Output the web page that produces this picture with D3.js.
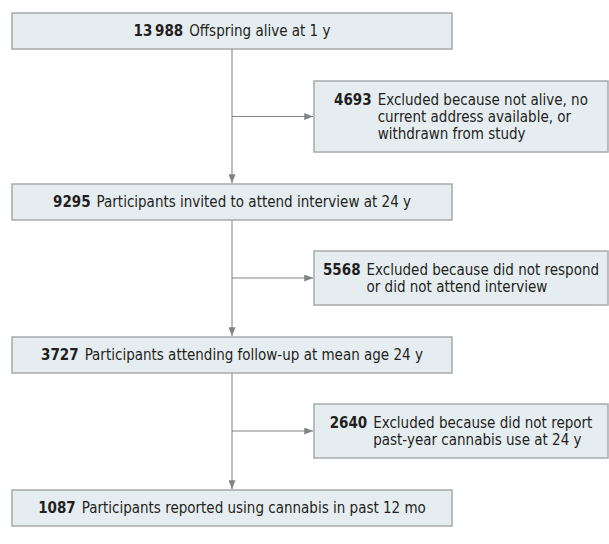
<!DOCTYPE html>
<html>
<head>
<meta charset="utf-8">
<script src="https://cdn.jsdelivr.net/npm/d3@7"></script>
<style>
  html, body { margin: 0; padding: 0; background: #fff; }
  svg { display: block; }
  text { font-family: "Liberation Sans Narrow", "DejaVu Sans Condensed", sans-serif; font-size: 15px; fill: #231f20; }
</style>
</head>
<body>
<svg id="chart" width="609" height="544"></svg>
<script>
// ---- data ----
const stageCounts = [13988, 9295, 3727, 1087];
const stageLabels = [
  "Offspring alive at 1 y",
  "Participants invited to attend interview at 24 y",
  "Participants attending follow-up at mean age 24 y",
  "Participants reported using cannabis in past 12 mo"
];
const excludedCounts = [4693, 5568, 2640];
const excludedLabels = [
  ["Excluded because not alive, no", "current address available, or", "withdrawn from study"],
  ["Excluded because did not respond", "or did not attend interview"],
  ["Excluded because did not report", "past-year cannabis use at 24 y"]
];

// ---- layout ----
const svg = d3.select("#chart");
const mainX0 = 12, mainX1 = 452, mainH = 36;
const mainTops = [13, 184, 337, 490];
const exclX0 = 314, exclX1 = 608;
const exclTops = [81, 251, 404];
const exclHeights = [71, 54, 54];
const lineH = 17;
const gap = 6;
const boxFill = "#e6edf1", boxStroke = "#a7a9ac", lineColor = "#a7a9ac", headColor = "#808285";
const cx = (mainX0 + mainX1) / 2;

const fmt = n => n >= 10000 ? d3.format(",")(n).replace(/,/g, "\u2009") : String(n);

// arrowhead marker
const defs = svg.append("defs");
defs.append("marker")
  .attr("id", "ah").attr("viewBox", "0 0 10 8")
  .attr("refX", 10).attr("refY", 4)
  .attr("markerWidth", 9).attr("markerHeight", 7)
  .attr("markerUnits", "userSpaceOnUse")
  .attr("orient", "auto")
  .append("path").attr("d", "M0,0 L10,4 L0,8 Z").attr("fill", headColor);

// connectors
for (let i = 0; i < stageCounts.length - 1; i++) {
  svg.append("line")
    .attr("x1", cx).attr("x2", cx)
    .attr("y1", mainTops[i] + mainH).attr("y2", mainTops[i + 1] - 1)
    .attr("stroke", lineColor).attr("stroke-width", 1.5)
    .attr("marker-end", "url(#ah)");
  const ay = exclTops[i] + exclHeights[i] / 2;
  svg.append("line")
    .attr("x1", cx).attr("x2", exclX0 - 1)
    .attr("y1", ay).attr("y2", ay)
    .attr("stroke", headColor).attr("stroke-width", 1.2)
    .attr("marker-end", "url(#ah)");
}

// main boxes
stageCounts.forEach((c, i) => {
  const g = svg.append("g");
  g.append("rect")
    .attr("x", mainX0).attr("y", mainTops[i])
    .attr("width", mainX1 - mainX0).attr("height", mainH)
    .attr("fill", boxFill).attr("stroke", boxStroke).attr("stroke-width", 1.5);
  const t = g.append("text")
    .attr("x", cx).attr("y", mainTops[i] + mainH / 2)
    .attr("dy", "0.36em").attr("text-anchor", "middle");
  t.append("tspan").attr("font-weight", "bold").text(fmt(c));
  t.append("tspan").attr("dx", gap).text(stageLabels[i]);
});

// exclusion boxes
excludedCounts.forEach((c, i) => {
  const g = svg.append("g");
  const h = exclHeights[i];
  g.append("rect")
    .attr("x", exclX0).attr("y", exclTops[i])
    .attr("width", exclX1 - exclX0).attr("height", h)
    .attr("fill", boxFill).attr("stroke", boxStroke).attr("stroke-width", 1.5);
  const num = g.append("text").attr("font-weight", "bold").text(fmt(c));
  const nw = num.node().getComputedTextLength();
  const lines = excludedLabels[i];
  const lt = lines.map(s => g.append("text").text(s));
  const lw = d3.max(lt, t => t.node().getComputedTextLength());
  const total = nw + gap + lw;
  const x0 = (exclX0 + exclX1) / 2 - total / 2;
  const firstY = exclTops[i] + h / 2 - (lines.length - 1) * lineH / 2;
  num.attr("x", x0).attr("y", firstY).attr("dy", "0.36em");
  lt.forEach((t, j) => t.attr("x", x0 + nw + gap).attr("y", firstY + j * lineH).attr("dy", "0.36em"));
});
</script>
</body>
</html>
